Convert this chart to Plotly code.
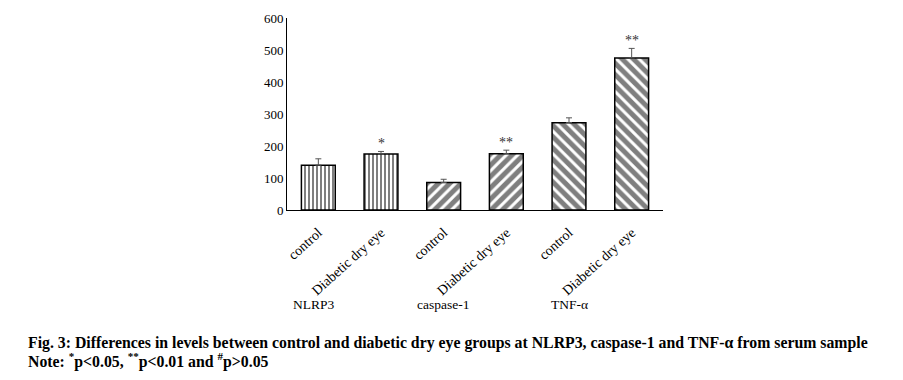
import plotly.graph_objects as go

categories = ["control", "Diabetic dry eye", "control ", "Diabetic dry eye ", "control  ", "Diabetic dry eye  "]
tick_labels = ["control", "Diabetic dry eye", "control", "Diabetic dry eye", "control", "Diabetic dry eye"]
values = [140, 175, 86, 176, 273, 475]
errors = [20, 8, 10, 11, 15, 30]
patterns = ["|", "|", "/", "/", "\\", "\\"]
signif = ["", "*", "", "**", "", "**"]
groups = ["NLRP3", "caspase-1", "TNF-α"]
y_ticks = [0, 100, 200, 300, 400, 500, 600]

# page pixel geometry of the plot area
L, R, T, B = 287, 663, 18, 210
OFF = 8  # default body margin of the html page
W, H = 903 - 2 * OFF, 380 - 2 * OFF

fig = go.Figure()
fig.add_trace(go.Bar(
    x=categories, y=values,
    marker=dict(color="white", line=dict(color="black", width=1.5),
                pattern=dict(shape=patterns, fgcolor="black", bgcolor="white",
                             size=[4, 4, 8, 8, 8, 8], solidity=[0.5, 0.5, 0.62, 0.62, 0.62, 0.62])),
    error_y=dict(type="data", array=errors, arrayminus=[0]*6, symmetric=False,
                 color="#555", thickness=1, width=3),
    width=0.54,
))

for c, v, e, s in zip(categories, values, errors, signif):
    if s:
        fig.add_annotation(x=c, y=v + e, text=s, showarrow=False, yanchor="bottom",
                           font=dict(family="Liberation Serif", size=14, color="#333"), yshift=-2)

def px_x(px):
    return (px - L) / (R - L)

def px_y(py):
    return (B - py) / (B - T)

group_px = [314, 443, 569]
for g, gx in zip(groups, group_px):
    fig.add_annotation(x=px_x(gx), y=px_y(304), xref="paper", yref="paper", text=g,
                       xanchor="center", yanchor="middle",
                       showarrow=False, font=dict(family="Liberation Serif", size=13.5, color="black"))

fig.add_annotation(x=px_x(26), y=px_y(343), xref="paper", yref="paper", xanchor="left", yanchor="middle",
                   text="<b>Fig. 3: Differences in levels between control and diabetic dry eye groups at NLRP3, caspase-1 and TNF-α from serum sample</b>",
                   showarrow=False, font=dict(family="Liberation Serif", size=15.8, color="black"))
fig.add_annotation(x=px_x(26), y=px_y(360), xref="paper", yref="paper", xanchor="left", yanchor="middle",
                   text="<b>Note: <sup>*</sup>p<0.05, <sup>**</sup>p<0.01 and <sup>#</sup>p>0.05</b>",
                   showarrow=False, font=dict(family="Liberation Serif", size=15.8, color="black"))

fig.update_layout(
    width=W, height=H,
    margin=dict(l=L - OFF, r=W - (R - OFF), t=T - OFF, b=H - (B - OFF), autoexpand=False),
    plot_bgcolor="white", paper_bgcolor="white",
    showlegend=False,
    bargap=0.46,
    xaxis=dict(tickmode="array", tickvals=categories, ticktext=tick_labels, tickangle=-42,
               showline=True, linecolor="black", linewidth=1, ticks="", showgrid=False,
               automargin=False, ticklabelstandoff=8,
               tickfont=dict(family="Liberation Serif", size=14, color="black")),
    yaxis=dict(range=[0, 600], tickvals=y_ticks, showline=True, linecolor="black", linewidth=1,
               ticks="", showgrid=False, zeroline=False, automargin=False,
               tickfont=dict(family="Liberation Serif", size=13, color="black")),
)

fig.write_html("out.html")
